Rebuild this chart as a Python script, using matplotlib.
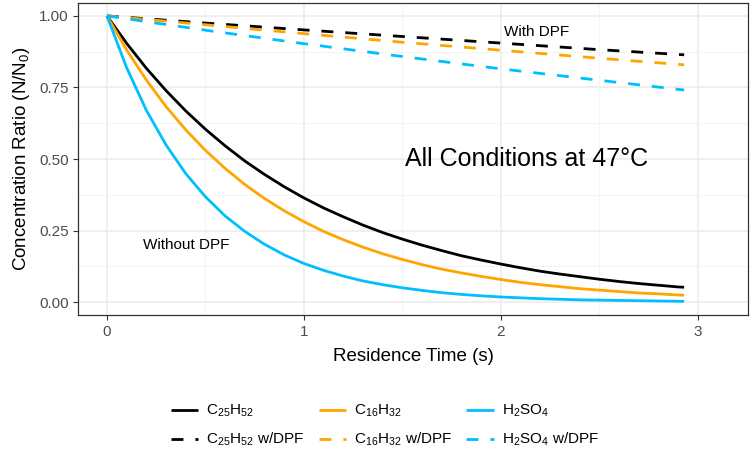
import matplotlib
matplotlib.use('Agg')
import matplotlib.pyplot as plt
from matplotlib.lines import Line2D

plt.rcParams['font.family'] = ['Liberation Sans', 'DejaVu Sans']
plt.rcParams['mathtext.fontset'] = 'custom'
plt.rcParams['mathtext.rm'] = 'Liberation Sans'
plt.rcParams['mathtext.default'] = 'regular'

# Data
time_s = [0.0, 0.1, 0.2, 0.3, 0.4, 0.5, 0.6, 0.7, 0.8, 0.9,
          1.0, 1.1, 1.2, 1.3, 1.4, 1.5, 1.6, 1.7, 1.8, 1.9,
          2.0, 2.1, 2.2, 2.3, 2.4, 2.5, 2.6, 2.7, 2.8, 2.9, 2.93]
c25h52 = [1.000, 0.904, 0.817, 0.739, 0.668, 0.604, 0.546, 0.493, 0.446, 0.403,
          0.364, 0.329, 0.298, 0.269, 0.243, 0.220, 0.199, 0.180, 0.162, 0.147,
          0.133, 0.120, 0.108, 0.098, 0.089, 0.080, 0.072, 0.065, 0.059, 0.053, 0.052]
c16h32 = [1.000, 0.881, 0.776, 0.683, 0.602, 0.530, 0.467, 0.411, 0.362, 0.319,
          0.281, 0.247, 0.218, 0.192, 0.169, 0.149, 0.131, 0.115, 0.102, 0.090,
          0.079, 0.069, 0.061, 0.054, 0.047, 0.042, 0.037, 0.032, 0.029, 0.025, 0.024]
h2so4 = [1.000, 0.819, 0.670, 0.549, 0.449, 0.368, 0.301, 0.247, 0.202, 0.165,
         0.135, 0.111, 0.091, 0.074, 0.061, 0.050, 0.041, 0.033, 0.027, 0.022,
         0.018, 0.015, 0.012, 0.010, 0.008, 0.007, 0.006, 0.005, 0.004, 0.003, 0.003]

time_dpf = [0.0, 0.5, 1.0, 1.5, 2.0, 2.5, 2.93]
c25h52_dpf = [1.000, 0.975, 0.951, 0.928, 0.905, 0.882, 0.864]
c16h32_dpf = [1.000, 0.969, 0.938, 0.908, 0.880, 0.852, 0.829]
h2so4_dpf = [1.000, 0.950, 0.903, 0.858, 0.815, 0.775, 0.741]

labels = ['C$_{25}$H$_{52}$', 'C$_{16}$H$_{32}$', 'H$_{2}$SO$_{4}$']
colors = ['black', '#FFA500', '#00BFFF']
dash = (0, (4.3, 4.3))

# Figure
fig = plt.figure(figsize=(7.5, 4.49), dpi=100)
ax = fig.add_axes([0.104, 0.2984, 0.8933, 0.6949])

solid = [c25h52, c16h32, h2so4]
dashed = [c25h52_dpf, c16h32_dpf, h2so4_dpf]
for vals, col in zip(solid, colors):
    ax.plot(time_s, vals, color=col, lw=2, solid_capstyle='butt')
for vals, col in zip(dashed, colors):
    ax.plot(time_dpf, vals, color=col, lw=2, linestyle=dash, dash_capstyle='butt')

# Axes styling (theme_bw look)
ax.set_xlim(-0.147, 3.254)
ax.set_ylim(-0.045, 1.045)
ax.set_xticks([0, 1, 2, 3])
ax.set_xticks([0.5, 1.5, 2.5], minor=True)
ax.set_yticks([0, 0.25, 0.5, 0.75, 1.0])
ax.set_yticklabels(['0.00', '0.25', '0.50', '0.75', '1.00'])
ax.set_yticks([0.125, 0.375, 0.625, 0.875], minor=True)
ax.grid(which='major', color='#EBEBEB', lw=1.1)
ax.grid(which='minor', color='#F2F2F2', lw=0.6)
ax.set_axisbelow(True)
ax.tick_params(which='major', length=3.5, width=0.8, color='#333333',
               labelsize=11, labelcolor='#4D4D4D', pad=3)
ax.tick_params(axis='x', which='major', pad=4)
ax.tick_params(which='minor', length=0)
for sp in ax.spines.values():
    sp.set_color('#333333')
    sp.set_linewidth(0.9)

ax.set_xlabel('Residence Time (s)', fontsize=13.5, labelpad=6)
ax.set_ylabel('Concentration Ratio (N/N$_{0}$)', fontsize=13.5, labelpad=5)

# Annotations
ax.text(2.18, 0.944, 'With DPF', fontsize=11, ha='center', va='center')
ax.text(0.40, 0.20, 'Without DPF', fontsize=11, ha='center', va='center')
ax.text(2.13, 0.50, 'All Conditions at 47\u00b0C', fontsize=18, ha='center', va='center')

# Legend
handles = []
legend_labels = []
for lab, col in zip(labels, colors):
    handles.append(Line2D([], [], color=col, lw=2, solid_capstyle='butt'))
    legend_labels.append(lab)
    handles.append(Line2D([], [], color=col, lw=2, linestyle=dash, dash_capstyle='butt'))
    legend_labels.append(lab + ' w/DPF')
fig.legend(handles, legend_labels, ncol=3, loc='center',
           bbox_to_anchor=(0.513, 0.052), frameon=False, fontsize=11,
           handlelength=1.8, handletextpad=0.5, columnspacing=0.95,
           labelspacing=0.75)

fig.savefig('out.png', dpi=100)
